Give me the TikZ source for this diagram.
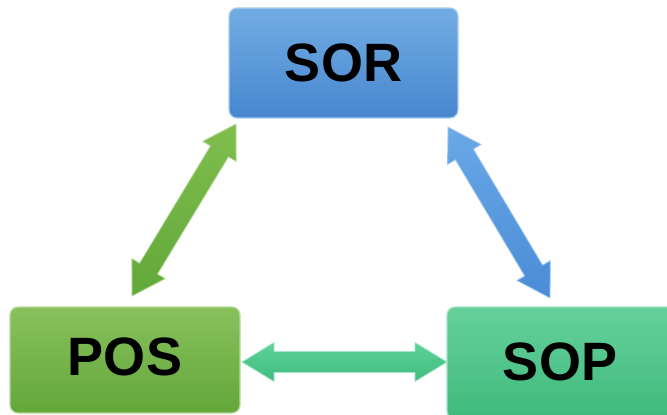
\documentclass[tikz,border=0pt]{standalone}
\usepackage{fontspec}
\setmainfont{Liberation Sans}
\usetikzlibrary{calc}
\definecolor{sorTop}{HTML}{72ACE3}
\definecolor{sorBot}{HTML}{4787CF}
\definecolor{posTop}{HTML}{88C15C}
\definecolor{posBot}{HTML}{63A73A}
\definecolor{sopTop}{HTML}{66D09C}
\definecolor{sopBot}{HTML}{3FBA7C}
\definecolor{grTop}{HTML}{80BE4E}
\definecolor{grBot}{HTML}{62A83A}
\definecolor{blTop}{HTML}{6AA8E6}
\definecolor{blBot}{HTML}{4A8CD6}
\definecolor{hzTop}{HTML}{5ED29A}
\definecolor{hzBot}{HTML}{3FBC7E}
\tikzset{
  box/.style={rounded corners=8pt, line width=1.2pt, inner sep=0pt,
    font=\bfseries\fontsize{54}{54}\selectfont, text=black},
}
\newcommand\dblarrow[5]{%
  \path coordinate (h1) at ($(#1)!32pt!(#2)$) coordinate (h2) at ($(#2)!32pt!(#1)$);
  \path[top color=#3, bottom color=#4, draw=#5, line width=0.8pt, line join=miter]
    (#1) -- ($(h1)!19.5pt!90:(#2)$) -- ($(h1)!10.5pt!90:(#2)$)
    -- ($(h2)!10.5pt!-90:(#1)$) -- ($(h2)!19.5pt!-90:(#1)$) -- (#2)
    -- ($(h2)!19.5pt!90:(#1)$) -- ($(h2)!10.5pt!90:(#1)$)
    -- ($(h1)!10.5pt!-90:(#2)$) -- ($(h1)!19.5pt!-90:(#2)$) -- cycle;
}
\begin{document}
\begin{tikzpicture}[x=1pt,y=-1pt]
\clip (0,0) rectangle (667,415);
\fill[white] (0,0) rectangle (667,415);
% boxes
\node[box, minimum width=229pt, minimum height=110pt, top color=sorTop, bottom color=sorBot, draw=sorTop!60!white] (sor) at (343.5,63) {SOR};
\node[box, minimum width=230pt, minimum height=106pt, top color=posTop, bottom color=posBot, draw=posTop!60!white] (pos) at (125,360) {};
\node[font=\bfseries\fontsize{54}{54}\selectfont] (posl) at (125,357) {POS};
\node[box, minimum width=240pt, minimum height=112pt, top color=sopTop, bottom color=sopBot, draw=sopTop!60!white] (sop) at (567,363) {};
\node[font=\bfseries\fontsize{54}{54}\selectfont] (sopl) at (560,362) {SOP};
% arrow end points
\coordinate (a1) at (236,124);
\coordinate (a2) at (132,296);
\coordinate (b1) at (448,127);
\coordinate (b2) at (550,298);
\coordinate (c1) at (242,362);
\coordinate (c2) at (447,362);
\dblarrow{a1}{a2}{grTop}{grBot}{grTop!55!white}
\dblarrow{b1}{b2}{blTop}{blBot}{blTop!55!white}
\dblarrow{c1}{c2}{hzTop}{hzBot}{hzTop!55!white}
\end{tikzpicture}
\end{document}
